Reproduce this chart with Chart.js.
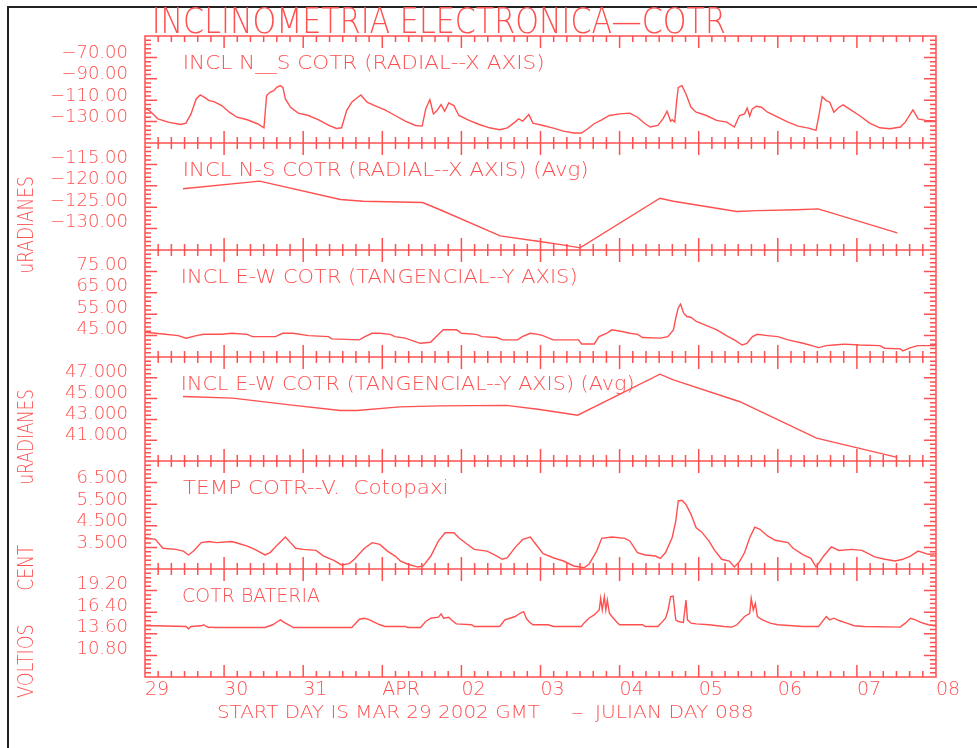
<!DOCTYPE html>
<html>
<head>
<meta charset="utf-8">
<script src="https://cdn.jsdelivr.net/npm/chart.js@4.4.1/dist/chart.umd.min.js"></script>
<style>
html,body{margin:0;padding:0;background:#fff;}
#wrap{position:relative;width:977px;height:748px;overflow:hidden;background:#fff;}
#frame{position:absolute;left:7px;top:6px;width:990px;height:760px;border-left:2px solid #222;border-top:2px solid #222;box-sizing:border-box;}
#c{position:absolute;left:0;top:0;width:977px;height:748px;}
</style>
</head>
<body>
<div id="wrap"><div id="frame"></div><canvas id="c" width="977" height="748"></canvas></div>
<script>
// ---------------- DATA ----------------
const dayLabels = ['29','30','31','APR','02','03','04','05','06','07','08'];
const mainTitle = 'INCLINOMETRIA ELECTRONICA\u2014COTR';
const xTitleParts = ['START DAY IS MAR 29 2002 GMT', '\u2014', 'JULIAN DAY 088'];
const panelTitles = [
  'INCL N__S COTR (RADIAL--X AXIS)',
  'INCL N-S COTR (RADIAL--X AXIS) (Avg)',
  'INCL E-W COTR (TANGENCIAL--Y AXIS)',
  'INCL E-W COTR (TANGENCIAL--Y AXIS) (Avg)',
  'TEMP COTR--V.  Cotopaxi',
  'COTR BATERIA'
];
const unitTitles = ['uRADIANES', 'uRADIANES', 'CENT', 'VOLTIOS'];

const yMin = [-150, -135, 35, 39, 2.5, 8.0];
const yMax = [-50, -110, 85, 49, 7.5, 22.0];
const yMajorStep = [20, 5, 10, 2, 1, 2.8];
const yTickValues = [
  [-130, -110, -90, -70],
  [-130, -125, -120, -115],
  [45, 55, 65, 75],
  [41, 43, 45, 47],
  [3.5, 4.5, 5.5, 6.5],
  [10.8, 13.6, 16.4, 19.2]
];
const yTickLabels = [
  ['\u2212130.00', '\u2212110.00', '\u221290.00', '\u221270.00'],
  ['\u2212130.00', '\u2212125.00', '\u2212120.00', '\u2212115.00'],
  ['45.00', '55.00', '65.00', '75.00'],
  ['41.000', '43.000', '45.000', '47.000'],
  ['3.500', '4.500', '5.500', '6.500'],
  ['10.80', '13.60', '16.40', '19.20']
];

// days since MAR 29 00:00 GMT
const days1 = [0,0.066,0.163,0.292,0.453,0.518,0.582,0.647,0.698,0.763,
  0.808,0.872,0.969,1.066,1.163,1.292,1.421,1.504,1.537,1.582,
  1.627,1.666,1.711,1.743,1.775,1.84,1.937,2.066,2.195,2.324,
  2.42,2.485,2.549,2.614,2.678,2.73,2.807,2.904,3.033,3.162,
  3.291,3.42,3.504,3.549,3.601,3.646,3.691,3.743,3.788,3.84,
  3.904,3.968,4.097,4.226,4.355,4.484,4.581,4.678,4.723,4.775,
  4.82,4.852,4.904,5.033,5.162,5.291,5.42,5.516,5.581,5.678,
  5.774,5.871,6.0,6.129,6.226,6.323,6.387,6.484,6.548,6.6,
  6.645,6.664,6.697,6.722,6.742,6.787,6.839,6.903,6.968,7.097,
  7.226,7.355,7.451,7.516,7.58,7.613,7.645,7.677,7.729,7.793,
  7.871,8.0,8.129,8.258,8.387,8.483,8.516,8.561,8.613,8.657,
  8.709,8.774,8.825,8.903,9.032,9.161,9.29,9.419,9.548,9.612,
  9.677,9.709,9.774,9.87,10];
const nsRadial = [-117.2,-120.3,-127.4,-130.5,-132.7,-131.4,-122.8,-108.8,-105.1,-107.9,
  -110.4,-111.3,-115.0,-121.2,-125.9,-128.3,-132.0,-135.8,-105.7,-102.6,
  -101.1,-98.0,-96.4,-98.0,-108.8,-116.6,-122.1,-124.3,-128.3,-133.6,
  -136.4,-135.8,-119.7,-111.9,-107.9,-105.1,-111.9,-115.0,-119.0,-124.3,
  -129.6,-133.6,-134.2,-118.1,-109.4,-122.8,-119.7,-114.1,-120.3,-112.5,
  -115.0,-124.3,-128.9,-132.7,-135.8,-137.6,-135.8,-130.5,-127.4,-129.6,
  -125.9,-123.4,-131.4,-133.6,-136.1,-138.9,-140.7,-140.7,-137.6,-132.0,
  -128.3,-124.3,-122.8,-122.1,-125.9,-132.0,-135.1,-133.6,-127.4,-120.3,
  -129.6,-128.3,-130.5,-110.4,-98.0,-96.4,-104.2,-116.6,-121.2,-124.3,
  -128.9,-130.5,-135.1,-124.3,-122.8,-117.2,-124.9,-118.1,-115.6,-116.6,
  -121.2,-125.9,-130.5,-134.2,-136.1,-138.2,-125.9,-106.7,-110.4,-111.9,
  -121.2,-116.6,-114.4,-118.1,-124.3,-131.4,-135.8,-136.7,-135.1,-130.5,
  -122.8,-119.0,-127.4,-128.9,-129.5];

const days2 = [0.48,1.45,2.47,2.76,3.51,3.73,4.49,4.99,5.28,5.50,6.51,6.68,7.48,7.74,8.24,8.51,9.51];
const nsAvg = [-120.7,-118.9,-123.2,-123.6,-123.9,-125.6,-131.7,-133.0,-133.8,-134.5,-122.9,-123.6,-126.0,-125.8,-125.6,-125.4,-131.0];

const days3 = [0,0.26,0.42,0.52,0.65,0.74,0.97,1.10,1.29,1.36,
  1.65,1.74,1.87,2.07,2.32,2.36,2.71,2.78,2.87,2.97,
  3.10,3.16,3.29,3.48,3.61,3.68,3.77,3.94,4.00,4.19,
  4.26,4.45,4.52,4.71,4.77,4.87,4.97,5.03,5.16,5.48,
  5.52,5.68,5.74,5.84,5.90,6.03,6.13,6.23,6.29,6.52,
  6.61,6.68,6.71,6.74,6.77,6.81,6.85,6.90,6.97,7.10,
  7.23,7.35,7.45,7.55,7.61,7.68,7.74,7.87,8.00,8.13,
  8.32,8.52,8.61,8.71,8.84,9.03,9.29,9.35,9.55,9.58,
  9.68,9.77,9.90,10];
const ewTang = [46.6,45.6,45.0,43.8,45.0,45.6,45.6,46.1,45.6,44.5,
  44.5,46.1,46.1,45.0,44.5,43.45,43.0,44.5,46.1,46.1,
  45.6,44.5,43.8,41.4,41.9,44.5,47.7,47.7,46.1,45.6,
  44.5,44.1,43.0,43.0,44.5,46.1,45.6,45.0,43.0,43.0,
  41.1,41.1,44.5,46.1,47.7,46.9,46.1,45.6,44.1,43.8,
  44.5,47.7,53.1,57.8,59.7,55.5,53.9,53.6,51.6,49.7,
  47.7,45.0,43.0,40.6,41.4,44.5,45.6,45.0,44.5,43.0,
  41.4,39.4,40.3,40.6,41.0,40.6,40.3,39.1,38.8,37.8,
  39.4,40.3,40.3,40.3];

const days4 = [0.48,1.11,1.83,2.47,2.68,3.22,3.73,4.57,4.99,5.47,6.51,6.68,7.52,8.49,9.51];
const ewAvg = [45.2,45.05,44.4,43.85,43.85,44.2,44.3,44.35,43.95,43.4,47.35,46.8,44.7,41.2,39.35];

const days5 = [0,0.13,0.227,0.389,0.485,0.55,0.614,0.711,0.808,0.905,
  1.098,1.195,1.292,1.388,1.517,1.582,1.679,1.775,1.84,1.904,
  2.001,2.162,2.259,2.388,2.485,2.582,2.646,2.775,2.872,2.969,
  3.065,3.162,3.227,3.323,3.452,3.517,3.614,3.71,3.794,3.904,
  3.968,4.065,4.162,4.323,4.42,4.517,4.581,4.678,4.775,4.871,
  4.936,5.033,5.162,5.291,5.42,5.549,5.613,5.71,5.774,5.903,
  6.065,6.129,6.226,6.323,6.452,6.516,6.581,6.664,6.71,6.742,
  6.787,6.839,6.903,6.968,7.032,7.129,7.193,7.29,7.387,7.451,
  7.516,7.58,7.645,7.709,7.774,7.871,7.968,8.129,8.193,8.322,
  8.419,8.483,8.58,8.677,8.774,8.935,9.064,9.225,9.354,9.483,
  9.58,9.677,9.774,9.903,10];
const temp = [3.95,3.87,3.46,3.41,3.33,3.15,3.33,3.72,3.77,3.72,
  3.77,3.67,3.56,3.41,3.15,3.26,3.64,3.98,3.72,3.46,
  3.41,3.36,3.10,2.90,2.69,2.75,2.95,3.46,3.72,3.64,
  3.33,3.10,2.87,2.72,2.59,2.64,3.10,3.80,4.18,4.18,
  3.95,3.67,3.41,3.33,3.15,2.95,3.02,3.49,3.87,3.98,
  3.67,3.21,3.02,2.87,2.64,2.56,2.72,3.33,3.92,3.98,
  3.92,3.80,3.26,3.15,3.10,2.99,3.26,3.95,4.72,5.65,
  5.68,5.49,5.03,4.41,4.23,3.80,3.41,2.95,2.87,2.59,
  2.84,3.26,3.95,4.44,4.34,4.03,3.83,3.72,3.46,3.15,
  2.99,2.59,3.10,3.52,3.36,3.41,3.36,3.06,2.95,2.87,
  2.95,3.10,3.33,3.18,3.2];

const days6 = [0,0.13,0.518,0.55,0.582,0.711,0.743,0.775,0.808,0.84,
  0.872,1.517,1.614,1.679,1.711,1.775,1.84,1.872,2.614,2.646,
  2.711,2.775,2.84,2.904,2.969,3.033,3.291,3.323,3.484,3.549,
  3.614,3.71,3.743,3.775,3.84,3.871,3.936,4.13,4.162,4.484,
  4.549,4.613,4.678,4.742,4.787,4.82,4.852,4.904,5.097,5.162,
  5.516,5.549,5.613,5.678,5.742,5.761,5.781,5.807,5.826,5.845,
  5.871,5.903,5.968,6.0,6.29,6.323,6.484,6.516,6.581,6.613,
  6.645,6.677,6.71,6.742,6.806,6.839,6.858,6.903,6.968,7.129,
  7.322,7.419,7.484,7.58,7.645,7.664,7.69,7.716,7.742,7.806,
  7.903,8.0,8.322,8.516,8.58,8.613,8.657,8.709,8.774,8.87,
  8.967,9.096,9.548,9.612,9.677,9.741,9.806,9.903,10];
const bateria = [14.64,14.64,14.55,14.25,14.55,14.64,14.77,14.55,14.42,14.47,
  14.42,14.42,14.77,15.19,15.41,14.98,14.64,14.42,14.42,14.77,
  15.49,15.62,15.41,15.07,14.77,14.55,14.55,14.42,14.42,15.19,
  15.62,15.75,16.18,15.62,15.75,15.41,14.89,14.77,14.55,14.55,
  15.41,15.62,15.84,16.26,16.48,15.62,15.19,14.77,14.77,14.55,
  14.55,14.98,15.62,16.05,16.69,18.19,16.69,18.41,16.69,17.98,
  16.26,15.84,15.07,14.77,14.77,14.55,14.55,14.89,15.62,16.69,
  18.41,18.49,15.41,15.19,15.07,17.98,15.41,14.98,14.89,14.77,
  14.55,14.47,14.77,15.84,16.26,18.19,16.69,17.55,15.84,15.41,
  14.98,14.77,14.55,14.55,15.41,15.84,15.41,15.62,15.32,14.98,
  14.64,14.55,14.47,14.98,15.62,15.41,15.07,14.77,14.6];

// ---------------- STYLE / LAYOUT ----------------
const RED = 'rgb(255,80,80)';
const FAMILY = '"DejaVu Sans", "Liberation Sans", sans-serif';
const WEIGHT = 200;
const panelHeights = [107, 107, 107, 104, 108, 108];
const panelTitleX = [185, 185, 183, 183, 183, 183];
const panelTitleW = [358, 402, 393, 450, 263, 137];
const unitTitleStart = [272, 483, 590, 698];
const unitTitleLen = [95, 93, 45, 73];
const xTitleX = [218, 572, 595];
const xTitleW = [322, 11, 157];
const yLabelOffset = [-4, -6, -6, -5, -4, -6];

const series = [
  {x: days1, y: nsRadial}, {x: days2, y: nsAvg}, {x: days3, y: ewTang},
  {x: days4, y: ewAvg}, {x: days5, y: temp}, {x: days6, y: bateria}
];

const datasets = series.map((s, i) => ({
  data: s.x.map((d, k) => ({x: d, y: s.y[k]})),
  yAxisID: 'y' + i,
  borderColor: RED,
  borderWidth: 1.4,
  pointRadius: 0,
  fill: false,
  tension: 0
}));

const scales = {
  x: {
    type: 'linear', position: 'bottom', min: 0, max: dayLabels.length - 1,
    afterBuildTicks: s => { s.ticks = dayLabels.map((_, i) => ({value: i})); },
    ticks: {
      callback: (v, idx) => dayLabels[idx],
      align: 'start', color: RED, padding: 2, maxRotation: 0, autoSkip: false,
      font: {family: FAMILY, size: 19, weight: WEIGHT}
    },
    grid: {display: false, drawTicks: false, tickLength: 0},
    border: {display: false},
    afterFit: s => { s.height = 71; }
  }
};
for (let i = 0; i < 6; i++) {
  scales['y' + i] = {
    type: 'linear', position: 'left', stack: 'panels', stackWeight: panelHeights[i], weight: 6 - i,
    min: yMin[i], max: yMax[i],
    afterBuildTicks: s => { s.ticks = yTickValues[i].map(v => ({value: v})); },
    ticks: {
      callback: (v, idx) => yTickLabels[i][idx],
      color: RED, padding: 17, labelOffset: yLabelOffset[i], autoSkip: false,
      font: {family: FAMILY, size: 18, weight: WEIGHT}
    },
    grid: {display: false, drawTicks: false, tickLength: 0},
    border: {display: false},
    afterFit: s => { s.width = 145; }
  };
}

function fitText(ctx, str, x, y, width, size, angle) {
  ctx.save();
  ctx.font = WEIGHT + ' ' + size + 'px ' + FAMILY;
  ctx.fillStyle = RED;
  ctx.textBaseline = 'alphabetic';
  ctx.textAlign = 'left';
  const m = ctx.measureText(str);
  const inkL = m.actualBoundingBoxLeft || 0;
  const inkW = (m.actualBoundingBoxRight + m.actualBoundingBoxLeft) || m.width;
  ctx.translate(x, y);
  if (angle) ctx.rotate(angle);
  ctx.scale(width / inkW, 1);
  ctx.fillText(str, inkL, 0);
  ctx.restore();
}

const panelFrame = {
  id: 'panelFrame',
  beforeDatasetsDraw(chart) {
    const {ctx, chartArea: a, scales: sc} = chart;
    const xs = sc.x;
    ctx.save();
    ctx.strokeStyle = RED;
    ctx.lineWidth = 1.5;
    ctx.beginPath();
    ctx.rect(a.left, a.top, a.right - a.left, a.bottom - a.top);
    const dividers = [];
    for (let i = 0; i < 6; i++) {
      const ys = sc['y' + i];
      if (i < 5) {
        dividers.push(ys.bottom);
        ctx.moveTo(a.left, ys.bottom); ctx.lineTo(a.right, ys.bottom);
      }
      const minor = yMajorStep[i] / 5;
      const n = Math.round((yMax[i] - yMin[i]) / minor);
      for (let k = 1; k < n; k++) {
        const py = ys.getPixelForValue(yMin[i] + k * minor);
        const len = (k % 5 === 0) ? 12 : 6;
        ctx.moveTo(a.left, py); ctx.lineTo(a.left + len, py);
        ctx.moveTo(a.right, py); ctx.lineTo(a.right - len, py);
      }
    }
    const perDay = 6;
    const nX = (dayLabels.length - 1) * perDay;
    for (let k = 1; k < nX; k++) {
      const px = xs.getPixelForValue(k / perDay);
      const len = (k % perDay === 0) ? 12 : 6;
      ctx.moveTo(px, a.top); ctx.lineTo(px, a.top + len);
      dividers.forEach(b => { ctx.moveTo(px, b - len); ctx.lineTo(px, b + len); });
      ctx.moveTo(px, a.bottom); ctx.lineTo(px, a.bottom - len);
    }
    ctx.stroke();
    ctx.restore();
  },
  afterDraw(chart) {
    const {ctx, scales: sc} = chart;
    fitText(ctx, mainTitle, 155, 33, 570, 36);
    for (let i = 0; i < 6; i++) {
      fitText(ctx, panelTitles[i], panelTitleX[i], sc['y' + i].top + 33, panelTitleW[i], 19);
    }
    unitTitles.forEach((t, i) => fitText(ctx, t, 33, unitTitleStart[i], unitTitleLen[i], 22, -Math.PI / 2));
    xTitleParts.forEach((t, i) => fitText(ctx, t, xTitleX[i], 718, xTitleW[i], 18));
  }
};

new Chart(document.getElementById('c'), {
  type: 'line',
  data: {datasets},
  options: {
    responsive: false,
    animation: false,
    events: [],
    layout: {padding: {top: 36, right: 41, bottom: 0, left: 0}},
    plugins: {legend: {display: false}, tooltip: {enabled: false}, title: {display: false}},
    scales
  },
  plugins: [panelFrame]
});
</script>
</body>
</html>
